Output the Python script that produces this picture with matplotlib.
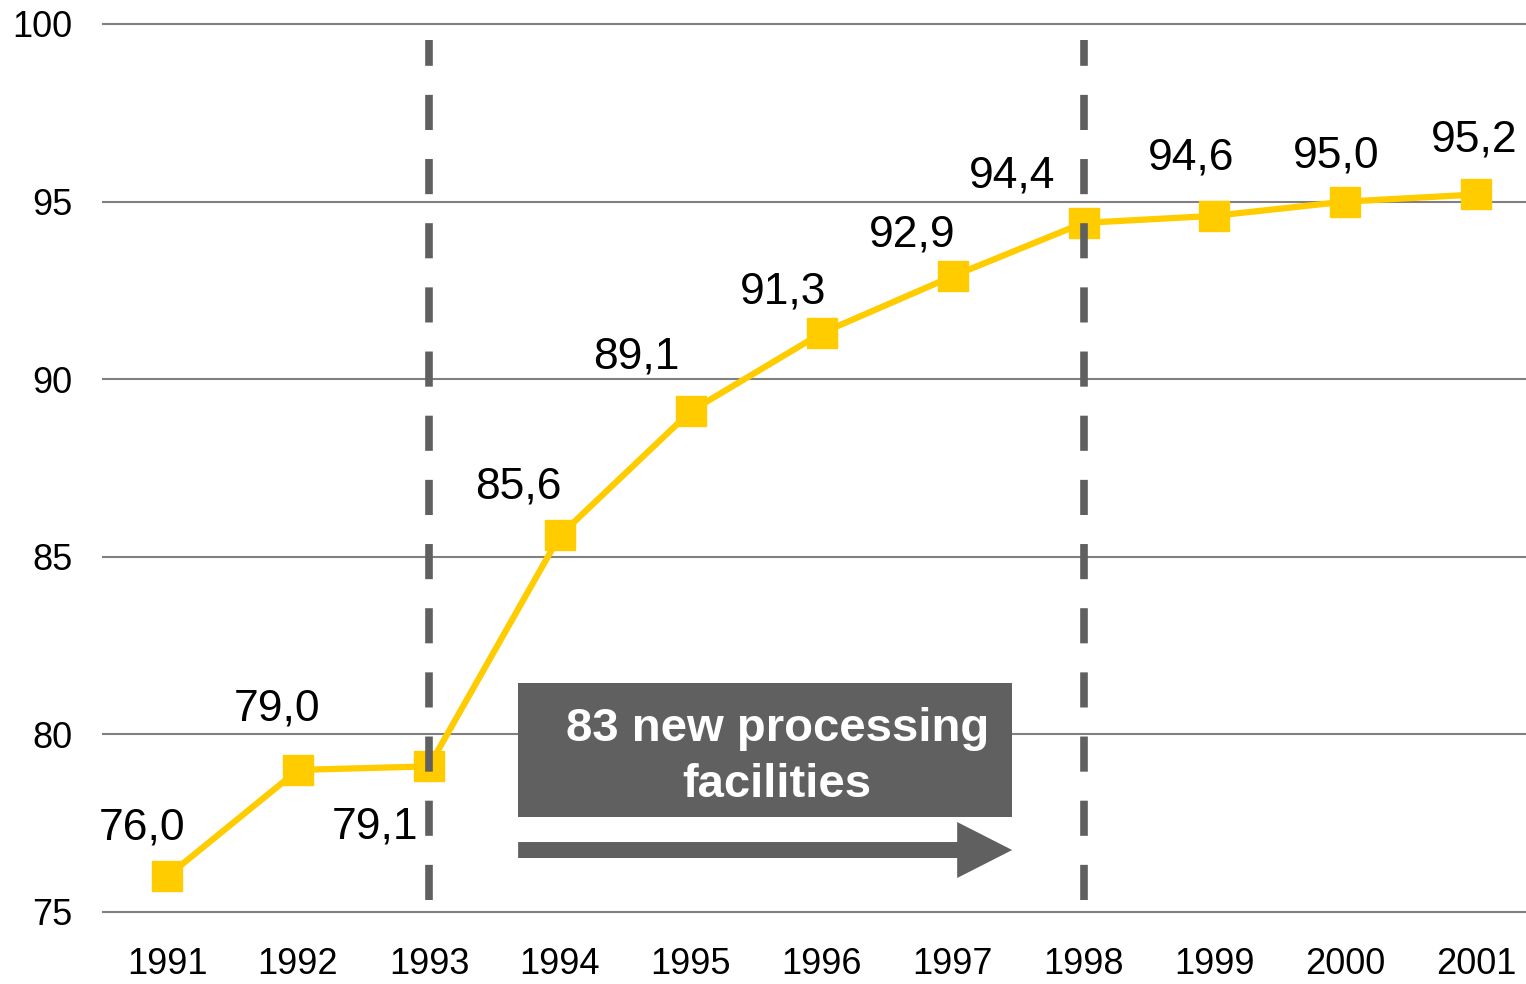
import matplotlib
matplotlib.use("Agg")
import matplotlib.pyplot as plt
from matplotlib.patches import Rectangle

plt.rcParams['font.family'] = ['Liberation Sans', 'DejaVu Sans']

years = ["1991", "1992", "1993", "1994", "1995", "1996", "1997", "1998", "1999", "2000", "2001"]
values = [76.0, 79.0, 79.1, 85.6, 89.1, 91.3, 92.9, 94.4, 94.6, 95.0, 95.2]
value_labels = ["76,0", "79,0", "79,1", "85,6", "89,1", "91,3", "92,9", "94,4", "94,6", "95,0", "95,2"]
y_ticks = [75, 80, 85, 90, 95, 100]
marked_years = ["1993", "1998"]
box_text = "83 new processing\nfacilities"

# label offsets in pixels (dx, dy to baseline)
label_offsets = [(-25, 37), (-21, 49), (-54, -72), (-42, 37), (-54, 43), (-39, 30),
                 (-40, 30), (-71, 35), (-23, 46), (-9, 34), (-2, 43)]

YELLOW = "#FFCC00"
DARK = "#606060"
GRID = "#808080"

fig = plt.figure(figsize=(15.26, 9.84), dpi=100)
ax = fig.add_axes([103/1526, 1-912/984, 1-103/1526, (912-24)/984])

x = list(range(len(years)))
ax.set_xlim(-0.49, 10.38)
ax.set_ylim(75, 100)

for s in ax.spines.values():
    s.set_visible(False)
ax.set_yticks(y_ticks)
ax.set_yticklabels([str(t) for t in y_ticks])
ax.set_xticks(x)
ax.set_xticklabels(years)
ax.tick_params(axis='y', length=0, pad=22, labelsize=26)
ax.tick_params(axis='x', length=0, pad=25.5, labelsize=26)
ax.set_axisbelow(True)
for yv in y_ticks:
    ax.axhline(yv, color=GRID, linewidth=1.5, zorder=0.5, clip_on=False)

ax.plot(x, values, color=YELLOW, linewidth=4.5, marker='s', markersize=21,
        zorder=3, clip_on=False)

for yr in marked_years:
    xi = years.index(yr)
    ax.plot([xi, xi], [75.34, 99.55], color=DARK, linewidth=5.5,
            linestyle=(0, (4.6, 3.8)), zorder=4, solid_capstyle='butt', dash_capstyle='butt')

for xi, v, lab, (dx, dy) in zip(x, values, value_labels, label_offsets):
    ax.annotate(lab, xy=(xi, v), xytext=(dx, dy), textcoords='offset pixels',
                ha='center', va='baseline', fontsize=32, color='black', zorder=5)

# annotation box and arrow
bx0, bx1 = 2.681, 6.455
by0, by1 = 77.675, 81.447
ax.add_patch(Rectangle((bx0, by0), bx1 - bx0, by1 - by0, facecolor=DARK,
                       edgecolor='none', zorder=4))
ax.text(4.66, 79.36, box_text, ha='center', va='center', fontsize=34,
        fontweight='bold', color='white', linespacing=1.34, zorder=5)

ax.annotate('', xy=(bx1, 76.745), xytext=(bx0, 76.745),
            arrowprops=dict(arrowstyle='simple,head_length=3.96,head_width=4.03,tail_width=1.15',
                            mutation_scale=10, color=DARK, shrinkA=0, shrinkB=0,
                            linewidth=0),
            zorder=4)

fig.savefig("out.png", dpi=100)
